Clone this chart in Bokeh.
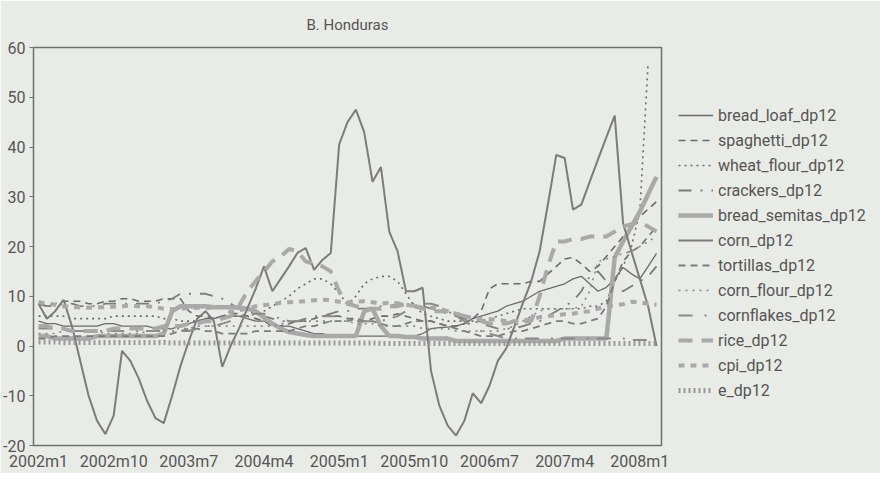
from bokeh.plotting import figure
from bokeh.models import FixedTicker, Legend, LegendItem, ColumnDataSource
from bokeh.embed import file_html
from bokeh.resources import INLINE

# ---- data (month index 0 = 2002m1, 74 = 2008m3) ----
tick_labels = ["2002m1", "2002m10", "2003m7", "2004m4", "2005m1",
               "2005m10", "2006m7", "2007m4", "2008m1"]
tick_pos = [0, 9, 18, 27, 36, 45, 54, 63, 72]
y_ticks = [-20, -10, 0, 10, 20, 30, 40, 50, 60]
months = list(range(75))

bread_loaf = [5.0, 4.5, 4.5, 4.0, 4.0, 4.0, 4.0, 4.0, 4.5, 4.5, 4.0, 4.0,
              4.0, 4.0, 3.5, 3.5, 3.5, 4.0, 4.5, 5.0, 5.5, 5.5, 6.0, 6.0,
              6.0, 5.5, 5.0, 5.0, 4.5, 4.0, 4.0, 3.5, 3.0, 2.5, 2.5, 2.0,
              2.0, 1.8, 2.0, 2.0, 2.0, 2.0, 2.0, 2.0, 2.0, 2.0, 2.5, 3.5,
              3.7, 3.8, 4.0, 4.5, 5.5, 6.0, 6.5, 7.0, 8.0, 8.5, 9.0, 10.0,
              11.0, 11.5, 12.0, 12.5, 13.5, 14.0, 12.5, 11.0, 11.8, 13.5, 15.8, 14.5,
              13.5, 16.0, 18.6]
spaghetti = [8.5, 8.0, 8.5, 9.0, 9.0, 9.0, 8.5, 8.5, 9.0, 9.0, 9.5, 9.5,
             9.0, 9.0, 9.0, 9.5, 9.5, 9.5, 7.0, 6.0, 6.0, 5.5, 6.0, 6.5,
             6.5, 6.0, 5.5, 5.0, 4.0, 4.0, 4.5, 5.0, 5.0, 5.5, 6.0, 6.0,
             6.0, 5.5, 5.5, 5.0, 5.5, 6.0, 6.0, 6.5, 6.0, 5.5, 5.0, 5.0,
             4.5, 4.0, 4.0, 4.5, 5.5, 7.0, 11.5, 12.5, 12.5, 12.5, 12.5, 13.0,
             13.0, 14.5, 16.0, 17.5, 17.8, 16.5, 15.0, 16.0, 18.0, 20.0, 22.0, 24.0,
             26.0, 27.5, 29.0]
wheat_flour = [6.0, 6.0, 6.0, 6.0, 5.5, 5.5, 5.5, 5.5, 5.5, 6.0, 6.0, 6.0,
               6.0, 6.0, 6.0, 5.5, 5.5, 5.0, 5.0, 5.0, 5.5, 5.5, 6.0, 6.0,
               6.0, 6.0, 6.5, 7.0, 8.0, 9.0, 10.0, 11.5, 12.5, 13.5, 13.5, 12.5,
               10.5, 8.5, 10.0, 12.5, 13.5, 14.0, 14.0, 13.0, 10.5, 8.0, 6.5, 6.0,
               5.5, 5.0, 5.0, 5.0, 5.0, 5.0, 5.5, 6.0, 6.5, 7.0, 7.5, 7.5,
               7.5, 7.5, 7.5, 7.5, 7.5, 7.5, 8.0, 8.0, 9.0, 13.0, 16.0, 20.0,
               27.0, 57.0, float("nan")]
crackers = [8.5, 8.0, 8.0, 8.5, 8.5, 8.0, 8.0, 8.0, 8.5, 8.5, 8.5, 8.5,
            8.5, 8.5, 8.5, 9.0, 9.5, 10.5, 10.5, 10.5, 10.5, 10.0, 9.5, 8.5,
            7.5, 7.0, 6.5, 6.0, 5.5, 5.0, 5.0, 5.0, 5.5, 6.0, 6.0, 6.5,
            7.0, 7.0, 7.5, 7.5, 7.5, 8.0, 8.0, 8.5, 8.5, 8.5, 8.0, 7.5,
            7.0, 6.5, 6.0, 5.5, 5.0, 4.5, 4.0, 3.5, 3.5, 3.5, 4.0, 4.5,
            5.0, 6.0, 7.0, 8.0, 9.0, 11.0, 14.0, 15.0, 13.0, 12.0, 11.0, 12.0,
            13.0, 14.0, 16.0]
bread_semitas = [2.0, 2.0, 1.5, 1.5, 1.5, 1.5, 1.5, 2.0, 2.0, 2.0, 2.0, 2.0,
                 2.0, 2.0, 2.0, 2.5, 7.0, 8.0, 8.0, 8.0, 8.0, 7.8, 7.8, 7.8,
                 7.7, 7.5, 7.0, 5.7, 4.5, 3.5, 2.8, 2.5, 2.2, 2.0, 2.0, 2.0,
                 2.0, 2.0, 2.0, 7.0, 7.5, 4.0, 2.0, 2.0, 1.8, 1.8, 1.5, 1.5,
                 1.5, 1.5, 1.0, 1.0, 1.0, 1.0, 1.0, 1.0, 1.0, 1.0, 1.0, 1.0,
                 1.0, 1.0, 1.0, 1.5, 1.5, 1.5, 1.5, 1.5, 1.5, 17.8, 21.0, 24.0,
                 27.0, 30.5, 34.0]
corn = [8.5, 5.5, 7.0, 9.3, 4.0, -3.0, -10.0, -15.0, -17.7, -14.0, -1.0, -3.0,
        -6.5, -11.0, -14.5, -15.5, -10.0, -4.0, 1.0, 5.5, 7.0, 5.0, -4.2, 0.0,
        3.5, 7.5, 11.5, 16.0, 11.0, 13.5, 16.0, 18.7, 19.7, 15.3, 17.3, 18.7,
        40.5, 45.0, 47.5, 43.0, 33.0, 36.0, 23.0, 19.0, 11.0, 11.0, 11.7, -5.0,
        -12.0, -16.0, -18.0, -15.0, -9.5, -11.5, -8.0, -3.0, -0.5, 4.0, 8.6, 13.0,
        19.0, 28.5, 38.4, 37.8, 27.4, 28.4, 33.0, 37.5, 42.0, 46.3, 24.7, 19.0,
        13.5, 8.0, 0.0]
tortillas = [1.5, 1.5, 2.0, 2.0, 2.0, 2.0, 2.0, 2.0, 2.0, 2.0, 2.0, 2.0,
             2.0, 2.0, 2.0, 2.0, 2.5, 3.0, 3.5, 3.5, 3.0, 3.0, 2.5, 2.5,
             2.5, 2.5, 3.0, 3.0, 3.0, 3.0, 3.0, 3.5, 4.0, 4.0, 4.5, 5.0,
             5.0, 5.0, 5.5, 5.0, 5.0, 4.5, 4.0, 4.0, 4.5, 5.0, 5.0, 5.0,
             4.5, 4.0, 3.5, 3.0, 2.5, 2.0, 2.0, 2.0, 2.5, 3.0, 3.0, 3.5,
             4.0, 4.5, 5.0, 5.0, 4.5, 4.5, 5.0, 5.5, 8.0, 13.0, 17.0, 19.0,
             20.0, 22.0, 24.0]
corn_flour = [2.5, 2.5, 2.5, 3.0, 3.0, 3.0, 3.0, 3.0, 2.5, 2.5, 2.5, 2.5,
              2.5, 3.0, 3.0, 3.0, 3.5, 3.5, 3.5, 4.0, 4.0, 4.0, 4.0, 4.0,
              4.0, 4.0, 4.0, 4.0, 4.0, 4.5, 4.5, 5.0, 5.0, 5.0, 5.0, 5.0,
              5.0, 5.0, 4.5, 4.5, 4.5, 4.0, 4.0, 4.0, 4.0, 4.0, 3.5, 3.5,
              3.5, 3.5, 3.0, 3.0, 3.0, 3.0, 3.0, 3.0, 3.5, 4.0, 5.0, 6.0,
              7.0, 7.5, 7.5, 7.5, 7.5, 8.0, 11.0, 17.0, 17.5, 18.0, 18.6, 19.0,
              20.0, 21.0, 22.0]
cornflakes = [3.5, 3.5, 3.5, 3.5, 3.0, 3.0, 3.0, 3.0, 3.0, 3.0, 3.0, 3.0,
              3.0, 3.0, 3.0, 3.0, 3.0, 3.0, 3.0, 3.5, 4.0, 4.0, 4.5, 5.0,
              5.5, 6.0, 6.5, 6.5, 6.0, 5.5, 5.0, 5.0, 5.0, 5.5, 6.0, 6.0,
              6.0, 5.5, 5.0, 5.0, 5.0, 5.0, 5.5, 6.0, 7.0, 8.0, 8.5, 8.5,
              8.0, 7.0, 6.0, 5.0, 4.0, 3.0, 2.5, 2.0, 1.5, 1.5, 1.5, 1.5,
              1.5, 1.5, 1.5, 1.5, 1.5, 1.5, 1.5, 1.5, 1.5, 1.5, 1.5, 1.2,
              1.2, 1.2, 1.2]
rice = [4.0, 4.0, 3.5, 3.5, 3.0, 3.0, 3.0, 3.0, 3.0, 3.5, 3.5, 3.5,
        3.5, 3.5, 3.5, 4.0, 4.0, 4.0, 4.5, 4.5, 5.0, 5.0, 5.5, 6.0,
        8.0, 11.0, 13.0, 15.0, 17.0, 18.0, 19.5, 19.0, 17.0, 16.5, 16.0, 15.0,
        11.0, 8.5, 8.0, 7.5, 7.5, 7.5, 8.0, 8.0, 8.5, 8.0, 7.5, 7.0,
        7.0, 7.0, 6.5, 6.0, 5.5, 5.0, 4.5, 4.5, 4.5, 5.0, 5.0, 5.0,
        10.0, 16.0, 21.0, 21.0, 21.5, 21.5, 22.0, 22.0, 22.0, 23.0, 24.0, 24.5,
        25.0, 24.0, 23.0]
cpi = [8.8, 8.6, 8.3, 8.0, 7.8, 7.8, 7.7, 7.8, 7.8, 7.9, 8.0, 8.1,
       8.0, 8.0, 7.8, 7.5, 7.4, 7.5, 7.6, 7.7, 7.6, 7.8, 7.9, 6.8,
       7.2, 7.5, 8.0, 8.2, 8.4, 8.7, 8.8, 8.9, 9.0, 9.2, 9.3, 9.2,
       8.9, 8.8, 8.9, 9.0, 8.8, 8.5, 8.7, 8.6, 8.3, 8.0, 7.7, 7.7,
       7.5, 7.0, 6.5, 6.0, 5.6, 5.4, 5.4, 5.3, 5.0, 5.0, 5.2, 5.3,
       5.8, 6.0, 6.2, 6.4, 6.5, 6.8, 7.0, 7.5, 8.0, 8.2, 8.4, 8.9,
       8.8, 8.5, 8.3]
e_dp12 = [0.8, 0.8, 0.8, 0.7, 0.7, 0.7, 0.7, 0.7, 0.7, 0.7, 0.7, 0.7,
          0.7, 0.7, 0.7, 0.7, 0.6, 0.6, 0.6, 0.6, 0.6, 0.6, 0.6, 0.6,
          0.6, 0.6, 0.6, 0.6, 0.6, 0.6, 0.6, 0.6, 0.6, 0.6, 0.6, 0.6,
          0.6, 0.6, 0.6, 0.6, 0.6, 0.5, 0.5, 0.5, 0.5, 0.5, 0.5, 0.5,
          0.5, 0.5, 0.5, 0.5, 0.5, 0.5, 0.5, 0.5, 0.5, 0.5, 0.5, 0.5,
          0.5, 0.5, 0.5, 0.5, 0.5, 0.5, 0.5, 0.5, 0.5, 0.5, 0.5, 0.5,
          0.5, 0.5, 0.5]

series = [
    ("bread_loaf_dp12", bread_loaf),
    ("spaghetti_dp12", spaghetti),
    ("wheat_flour_dp12", wheat_flour),
    ("crackers_dp12", crackers),
    ("bread_semitas_dp12", bread_semitas),
    ("corn_dp12", corn),
    ("tortillas_dp12", tortillas),
    ("corn_flour_dp12", corn_flour),
    ("cornflakes_dp12", cornflakes),
    ("rice_dp12", rice),
    ("cpi_dp12", cpi),
    ("e_dp12", e_dp12),
]
for _, v in series:
    assert len(v) == len(months)

# ---- styles ----
DARK = "#6c6c6c"
MID = "#7c7c7c"
LIGHT = "#a9a9a9"
styles = {
    "bread_loaf_dp12": dict(line_color=DARK, line_width=1.3, line_dash="solid"),
    "spaghetti_dp12": dict(line_color=DARK, line_width=1.6, line_dash="7 5"),
    "wheat_flour_dp12": dict(line_color=DARK, line_width=1.6, line_dash="2 4"),
    "crackers_dp12": dict(line_color=MID, line_width=1.8, line_dash="13 9 2 9"),
    "bread_semitas_dp12": dict(line_color=LIGHT, line_width=4.5, line_dash="solid"),
    "corn_dp12": dict(line_color=MID, line_width=2.0, line_dash="solid"),
    "tortillas_dp12": dict(line_color=MID, line_width=1.8, line_dash="7 5"),
    "corn_flour_dp12": dict(line_color="#8a8a8a", line_width=1.6, line_dash="2 5"),
    "cornflakes_dp12": dict(line_color="#8a8a8a", line_width=2.0, line_dash="14 12 2 8"),
    "rice_dp12": dict(line_color=LIGHT, line_width=4.0, line_dash="14 9"),
    "cpi_dp12": dict(line_color=LIGHT, line_width=4.0, line_dash="6 6"),
    "e_dp12": dict(line_color="#9a9a9a", line_width=5.0, line_dash="2 3"),
}

FONT = "Roboto"
TEXT = "#555555"
BG = "#e9ebe6"

p = figure(frame_width=628, frame_height=398, output_backend="svg",
           toolbar_location=None,
           x_range=(-0.6, 74.6), y_range=(-20, 60), title="B. Honduras",
           min_border_left=4, min_border_right=4, min_border_top=39,
           min_border_bottom=24)

p.background_fill_color = BG
p.border_fill_color = BG
p.xgrid.visible = False
p.ygrid.visible = False
p.outline_line_color = "#707070"
p.outline_line_width = 1.5

p.title.align = "center"
p.title.text_font = FONT
p.title.text_font_size = "15px"
p.title.text_font_style = "normal"
p.title.text_color = TEXT
p.title.standoff = 27

p.yaxis.ticker = FixedTicker(ticks=y_ticks)
p.yaxis.major_label_overrides = {t: str(t) for t in y_ticks}
p.xaxis.ticker = FixedTicker(ticks=tick_pos)
p.xaxis.major_label_overrides = {t: l for t, l in zip(tick_pos, tick_labels)}
for ax in (p.xaxis[0], p.yaxis[0]):
    ax.axis_line_color = None
    ax.major_tick_line_color = "#707070"
    ax.major_tick_in = 0
    ax.minor_tick_line_color = None
    ax.major_label_text_font = FONT
    ax.major_label_text_font_size = "16px"
    ax.major_label_text_color = TEXT
p.xaxis.major_tick_out = 0
p.xaxis.major_label_standoff = 6
p.yaxis.major_tick_out = 4
p.yaxis.major_label_standoff = 4

src = ColumnDataSource({"m": months, **{name: vals for name, vals in series}})
items = []
for name, _ in series:
    r = p.line("m", name, source=src, line_cap="butt", **styles[name])
    items.append(LegendItem(label=name, renderers=[r]))

legend = Legend(items=items, location=(17, 45), ncols=1)
legend.border_line_color = None
legend.background_fill_alpha = 0
legend.label_text_font = FONT
legend.label_text_font_size = "16px"
legend.label_text_color = TEXT
legend.glyph_width = 35
legend.glyph_height = 20
legend.label_height = 20
legend.label_standoff = 5
legend.spacing = 5
legend.padding = 0
legend.margin = 10
p.add_layout(legend, "right")

open("out.html", "w").write(file_html(p, INLINE))
